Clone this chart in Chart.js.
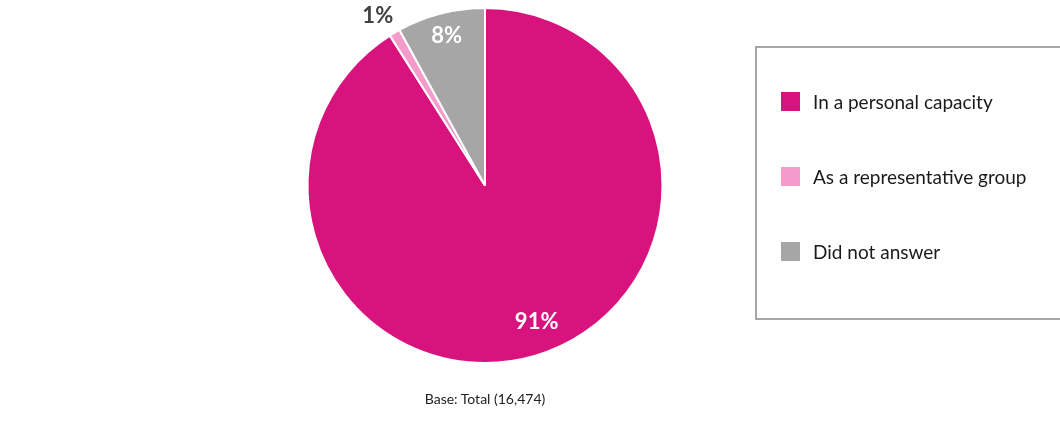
<!DOCTYPE html>
<html>
<head>
<meta charset="utf-8">
<script src="https://cdn.jsdelivr.net/npm/chart.js@4.4.0/dist/chart.umd.min.js"></script>
<style>
  body { margin: 0; background: #fff; font-family: Lato, "Open Sans", sans-serif; }
  #wrap { position: relative; width: 1060px; height: 430px; }
  #legendBox {
    position: absolute; left: 755px; top: 46px; width: 320px; height: 274px;
    border: 2px solid #a6a6a6; box-sizing: border-box;
  }
  .item { position: absolute; left: 24px; height: 20px; display: flex; align-items: center;
    font-size: 19px; color: #1a1a1a; white-space: nowrap; }
  .sw { width: 19px; height: 19px; margin-right: 13px; flex: none; }
  #base { position: absolute; left: 385px; width: 200px; top: 390px; text-align: center;
    font-size: 14px; color: #222; }
</style>
</head>
<body>
<div id="wrap">
  <canvas id="chart" width="1060" height="430"></canvas>
  <div id="legendBox"></div>
  <div id="base">Base: Total (16,474)</div>
</div>
<script>
const categories = ['In a personal capacity', 'As a representative group', 'Did not answer'];
const values = [91, 1, 8];
const valueLabels = ['91%', '1%', '8%'];
const colors = ['#d9137e', '#f59bcb', '#a6a6a6'];

// legend
const box = document.getElementById('legendBox');
categories.forEach(function(cat, i) {
    const div = document.createElement('div');
    div.className = 'item';
    div.style.top = (43 + i * 75) + 'px';
    div.innerHTML = '<span class="sw" style="background:' + colors[i] + '"></span>' + cat;
    box.appendChild(div);
});

// labels on slices
const sliceLabels = {
    id: 'sliceLabels',
    afterDatasetsDraw(chart, args, opts) {
        const ctx = chart.ctx;
        const meta = chart.getDatasetMeta(0);
        meta.data.forEach(function(arc, i) {
            const p = arc.getProps(['x', 'y', 'startAngle', 'endAngle', 'outerRadius'], true);
            const mid = (p.startAngle + p.endAngle) / 2 + opts.angleShift[i];
            const r = p.outerRadius * opts.radius[i];
            ctx.save();
            ctx.font = 'bold 22px Lato, "Open Sans", sans-serif';
            ctx.fillStyle = opts.color[i];
            ctx.textAlign = 'center';
            ctx.textBaseline = 'middle';
            ctx.fillText(valueLabels[i], p.x + Math.cos(mid) * r, p.y + Math.sin(mid) * r);
            ctx.restore();
        });
    }
};

const ctx = document.getElementById('chart').getContext('2d');
const chart = new Chart(ctx, {
    type: 'pie',
    data: {
        labels: categories,
        datasets: [{
            data: values,
            backgroundColor: colors,
            borderColor: '#ffffff',
            borderWidth: 2
        }]
    },
    options: {
        responsive: false,
        animation: false,
        layout: { padding: { top: 7, bottom: 66, left: 285, right: 375 } },
        plugins: {
            legend: { display: false },
            tooltip: { enabled: false },
            sliceLabels: {
                radius: [0.82, 1.13, 0.87],
                angleShift: [-0.08, -0.03, 0],
                color: ['#ffffff', '#404040', '#ffffff']
            }
        }
    },
    plugins: [sliceLabels]
});
</script>
</body>
</html>
